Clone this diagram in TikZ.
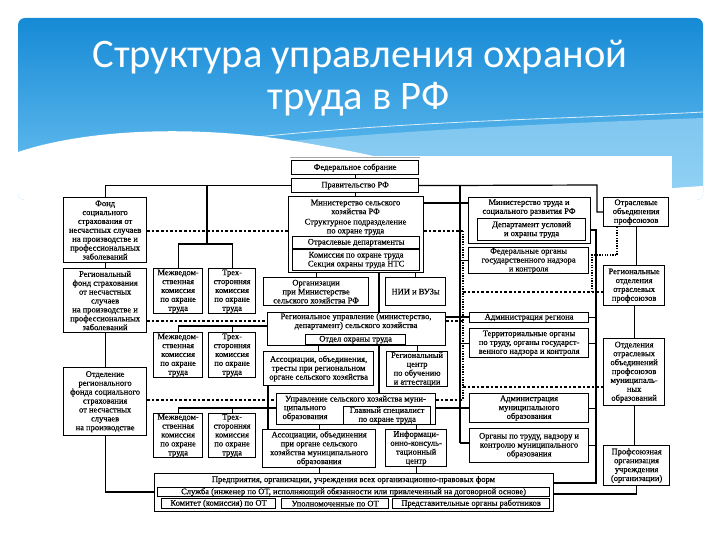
\documentclass[tikz,border=0pt]{standalone}
\usepackage{fontspec}
\setmainfont{Liberation Serif}
\newfontfamily\dfam{Liberation Serif}[FakeBold=0.35]
\newfontfamily\titlefont{Carlito}
\usetikzlibrary{calc}
\newcommand\dfont{\dfam\fontsize{8.5}{8.9}\selectfont}
\definecolor{hdtop}{RGB}{22,138,214}
\definecolor{hdbot}{RGB}{112,196,242}
\definecolor{hdlite}{RGB}{175,222,248}
\pgfdeclarelayer{back}
\pgfdeclarelayer{bg}
\pgfsetlayers{back,bg,main}
\tikzset{
  bx/.style={draw=black, line width=1.2pt, fill=white, inner sep=0.5pt, align=center, font=\dfont, anchor=north west},
  tx/.style={inner sep=0pt, align=center, font=\dfont},
  ln/.style={line width=1.2pt},
  dl/.style={line width=1.2pt, dash pattern=on 2.6pt off 2pt},
  dt/.style={line width=1.3pt, dash pattern=on 1.3pt off 1.3pt}
}
\newcommand\Bx[6]{\node[bx,minimum width=#4pt,minimum height=#5pt] (#1) at (#2,#3) {#6};}
\begin{document}
\begin{tikzpicture}[x=1pt,y=-1pt]
\useasboundingbox (0,0) rectangle (720,540);
\begin{pgfonlayer}{back}
\fill[white] (0,0) rectangle (720,540);
\begin{scope}
\clip[rounded corners=7pt] (18,18) rectangle (703,200);
\shade[top color=hdtop, bottom color=hdbot] (18,18) rectangle (703,200);
\fill[hdlite, opacity=0.55] (200,150) .. controls (400,128) and (600,122) .. (703,118) -- (703,200) -- (200,200) -- cycle;
\fill[white] (18,152) .. controls (90,128) and (200,125) .. (300,142) .. controls (380,156) and (430,165) .. (480,200) -- (18,200) -- cycle;
\fill[white] (560,200) .. controls (620,192) and (670,188) .. (703,186) -- (703,200) -- cycle;
\draw[white, line width=0.8pt, opacity=0.8] (230,140) .. controls (400,120) and (600,118) .. (703,112);
\end{scope}
\fill[white] (55,156) rectangle (672,525);
\draw[black!35, line width=0.8pt] (290,157) -- (420,157);
\end{pgfonlayer}

\node[font=\titlefont\fontsize{40.5}{42}\selectfont, text=white, anchor=base, inner sep=0pt] (t1) at (360,68) {Структура управления охраной};
\node[font=\titlefont\fontsize{40.5}{42}\selectfont, text=white, anchor=base, inner sep=0pt] (t2) at (359,110) {труда в РФ};

% top centre
\Bx{FS}{291}{160}{127}{14}{Федеральное собрание}
\Bx{PR}{291}{178}{127}{14}{Правительство РФ}
\Bx{MSH}{288}{196}{135}{76}{}
\node[tx] (MSHa) at (355.5,207) {Министерство сельского\\хозяйства РФ};
\node[tx] (MSHb) at (355.5,227) {Структурное подразделение\\по охране труда};
\Bx{OD}{292}{236}{127}{12}{Отраслевые департаменты}
\Bx{KOT}{292}{249}{127}{21}{Комиссия по охране труда\\Секция охраны труда НТС}
\Bx{ORG}{263}{277}{105}{28}{Организации\\при Министерстве\\сельского хозяйства РФ}
\Bx{NII}{385}{277}{60}{28}{НИИ и ВУЗы}
\Bx{RU}{267}{312}{178}{33}{}
\node[tx] (RUa) at (356,321.5) {Региональное управление (министерство,\\департамент) сельского хозяйства};
\Bx{OOT}{305}{334}{100}{10}{Отдел охраны труда}
\Bx{ASR}{263}{351}{110}{34}{Ассоциации, объединения,\\тресты при региональном\\органе сельского хозяйства}
\Bx{RC}{386}{351}{61}{35}{Региональный\\центр\\по обучению\\и аттестации}
\Bx{UM}{276}{393}{159}{31}{}
\node[tx] (UMa) at (355.5,399.5) {Управление сельского хозяйства муни-};
\node[tx] (UMb) at (305,413.5) {ципального\\образования};
\Bx{GS}{343}{406}{87}{17}{Главный специалист\\по охране труда}
\Bx{ASM}{262}{429}{113}{38}{Ассоциации, объединения\\при органе сельского\\хозяйства муниципального\\образования}
\Bx{IKC}{385}{429}{61}{37}{Информаци-\\онно-консуль-\\тационный\\центр}
\Bx{ENT}{154}{473}{399}{38}{}
\node[tx] (ENTa) at (353.5,480) {Предприятия, организации, учреждения всех организационно-правовых форм};
\Bx{SL}{157}{487}{392}{9}{Служба (инженер по ОТ, исполняющий обязанности или привлеченный на договорной основе)}
\Bx{KOM}{161}{498}{114}{10}{Комитет (комиссия) по ОТ}
\Bx{UPO}{281}{498}{107}{10}{Уполномоченные по ОТ}
\Bx{PRED}{392}{498}{157}{10}{Представительные органы работников}

% left column
\Bx{A1}{63}{197}{83}{65}{Фонд\\социального\\страхования от\\несчастных случаев\\на производстве и\\профессиональных\\заболеваний}
\Bx{A2}{63}{268}{83}{64}{Региональный\\фонд страхования\\от несчастных\\случаев\\на производстве и\\профессиональных\\заболеваний}
\Bx{A3}{63}{367}{83}{68}{Отделение\\регионального\\фонда социального\\страхования\\от несчастных\\случаев\\на производстве}

% commissions
\Bx{MV1}{153}{268}{49}{45}{Межведом-\\ственная\\комиссия\\по охране\\труда}
\Bx{TR1}{208}{268}{47}{45}{Трех-\\сторонняя\\комиссия\\по охране\\труда}
\Bx{MV2}{153}{332}{49}{45}{Межведом-\\ственная\\комиссия\\по охране\\труда}
\Bx{TR2}{208}{332}{47}{45}{Трех-\\сторонняя\\комиссия\\по охране\\труда}
\Bx{MV3}{153}{413}{49}{44}{Межведом-\\ственная\\комиссия\\по охране\\труда}
\Bx{TR3}{208}{413}{47}{44}{Трех-\\сторонняя\\комиссия\\по охране\\труда}

% right column
\Bx{MT}{468}{197}{122}{46}{}
\node[tx] (MTa) at (529,207.5) {Министерство труда и\\социального развития РФ};
\Bx{DU}{477}{218}{108}{22}{Департамент условий\\и охраны труда}
\Bx{FO}{468}{247}{120}{26}{Федеральные органы\\государственного надзора\\и контроля}
\Bx{AR}{469}{312}{119}{10}{Администрация региона}
\Bx{TO}{469}{328}{119}{29}{Территориальные органы\\по труду, органы государст-\\венного надзора и контроля}
\Bx{AM}{469}{393}{119}{29}{Администрация\\муниципального\\образования}
\Bx{OM}{469}{428}{119}{34}{Органы по труду, надзору и\\контролю муниципального\\образования}

% unions
\Bx{OOP}{603}{197}{65}{29}{Отраслевые\\объединения\\профсоюзов}
\Bx{ROP}{603}{265}{61}{40}{Региональные\\отделения\\отраслевых\\профсоюзов}
\Bx{OOM}{603}{338}{61}{67}{Отделения\\отраслевых\\объединений\\профсоюзов\\муниципаль-\\ных\\образований}
\Bx{PO}{603}{445}{66}{40}{Профсоюзная\\организация\\учреждения\\(организации)}

\coordinate (bL) at (460,185);
\coordinate (bLe) at (460,443);
\coordinate (dB) at (463,231);
\coordinate (dBe) at (463,400);
\coordinate (bR) at (596,230);
\coordinate (bRe) at (596,483);
\coordinate (vx) at (379,0);
\coordinate (vl) at (268,0);
\coordinate (c1) at (207,185);
\coordinate (cR) at (597,185);
\coordinate (dU) at (617,255);
\coordinate (dU2) at (592,292);

\begin{pgfonlayer}{bg}
% solid connectors
\draw[ln] (FS) -- (PR);
\draw[ln] (PR.south) -- (PR.south |- MSH.north);
\draw[ln] (PR.west) -| (A1.north);
\draw[ln] (c1) -- (c1 |- 0,244);
\draw[ln] (MV1.north) -- (MV1.north |- 0,244) -| (TR1.north);
\draw[ln] (PR.east) -- (cR) |- (OOP.west);
\draw[ln] (bL) -- (bLe);
\draw[ln] (MSH.east |- 0,203) -- (MT.west |- 0,203);
\draw[ln] (bL |- FO.west) -- (FO.west);
\draw[ln] (RU.east |- 0,317) -- (AR.west |- 0,317);
\draw[ln] (bL |- TO.west) -- (TO.west);
\draw[ln] (UM.east |- 0,408) -- (AM.west |- 0,408);
\draw[ln] (bLe) -- (OM.west |- bLe);
\draw[ln] (MT.east |- bR) -- (bR) -- (bRe) -- (ENT.east |- bRe);
\draw[ln] (AR.east) -- (AR.east -| bR);
\draw[ln] (TO.east) -- (TO.east -| bR);
\draw[ln] (AM.east) -- (AM.east -| bR);
\draw[ln] (OM.east) -- (OM.east -| bR);
\draw[ln] (OOP.south) -- (OOP.south |- ROP.north);
\draw[ln] (ROP.south) -- (ROP.south |- OOM.north);
\draw[ln] (OOM.south) -- (OOM.south |- PO.north);
\draw[ln] (PO.south) |- (ENT.east |- 0,494);
\draw[ln] (A1) -- (A2);
\draw[ln] (A2) -- (A3);
\draw[ln] (A3.south) |- (ENT.west |- 0,492);
\draw[ln] (ORG.north) -- (ORG.north |- MSH.south);
\draw[ln] (NII.north) -- (NII.north |- MSH.south);
\draw[ln] (MSH.south -| vx) -- (RU.north -| vx);
\draw[ln] (ASR.north) -- (ASR.north |- RU.south);
\draw[ln] (RC.north) -- (RC.north |- RU.south);
\draw[ln] (RU.south -| vx) -- (UM.north -| vx);
\draw[ln] (ASR.south -| vl) -- (ASM.north -| vl);
\draw[ln] (ASM.north) -- (ASM.north |- UM.south);
\draw[ln] (IKC.north) -- (IKC.north |- UM.south);
\draw[ln] (ASM.south) -- (ASM.south |- ENT.north);
\draw[ln] (IKC.south) -- (IKC.south |- ENT.north);
\draw[ln] (MV2.north) -- (MV2.north |- 0,326) -- (RU.west |- 0,326);
\draw[ln] (TR2.north) -- (TR2.north |- 0,326);
\draw[ln] (MV3.north) -- (MV3.north |- 0,408) -- (UM.west |- 0,408);
\draw[ln] (TR3.north) -- (TR3.north |- 0,408);
% dashed / dotted links
\draw[dl] (A1.east |- dB) -- (MSH.west |- dB);
\draw[dl] (MSH.east |- dB) -- (dB);
\draw[dt] (dB) -- (dBe);
\draw[dl] (A2.east |- 0,321) -- (RU.west |- 0,321);
\draw[dl] (RU.east |- 0,321) -- (dB |- 0,321);
\draw[dl] (A3.east |- dBe) -- (UM.west |- dBe);
\draw[dl] (UM.east |- dBe) -- (dBe);
\draw[dl] (dB |- dU2) -- (ROP.west |- dU2);
\draw[dl] (dB |- 0,387) -- (OOM.west |- 0,387);
\draw[dt] (OOP.south -| dU) -- (dU) -| (dU2);
\end{pgfonlayer}
\end{tikzpicture}
\end{document}
